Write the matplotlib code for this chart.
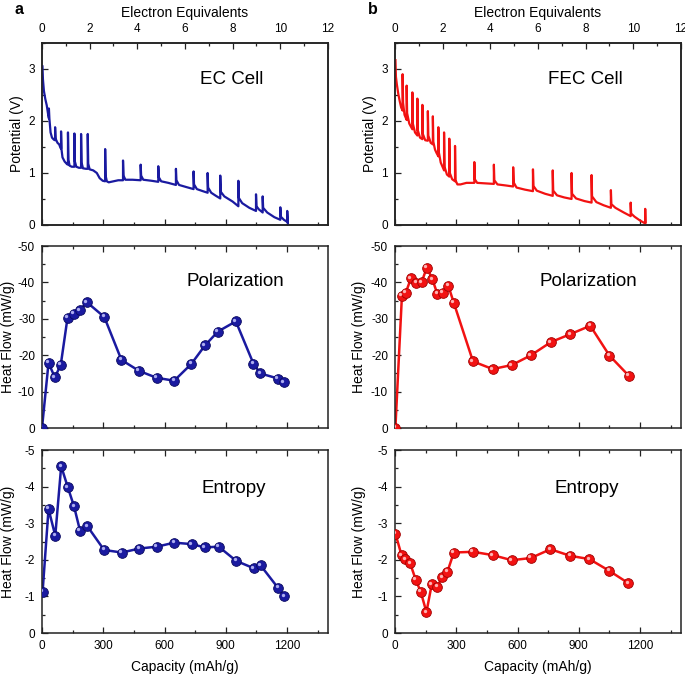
import matplotlib
matplotlib.use('Agg')
import matplotlib.pyplot as plt
import matplotlib.transforms as mtransforms
from matplotlib.ticker import MultipleLocator

plt.rcParams['font.family'] = ['Liberation Sans', 'DejaVu Sans']
plt.rcParams['axes.unicode_minus'] = False

# ---------------- data ----------------
# Potential vs electron equivalents (EC cell)
ec_e = [0.02, 0.04, 0.08, 0.14, 0.20, 0.26, 0.29, 0.29, 0.31, 0.36, 0.42, 0.50, 0.55, 0.55, 0.57,
        0.65, 0.72, 0.78, 0.80, 0.80, 0.82, 0.86, 0.95, 1.05, 1.09, 1.09, 1.11, 1.16, 1.25, 1.36,
        1.36, 1.38, 1.44, 1.55, 1.64, 1.64, 1.66, 1.72, 1.85, 1.92, 1.92, 1.94, 2.00, 2.15, 2.30,
        2.42, 2.55, 2.65, 2.65, 2.67, 2.72, 2.80, 3.00, 3.20, 3.40, 3.40, 3.42, 3.50, 3.80, 4.14,
        4.14, 4.16, 4.25, 4.60, 4.88, 4.88, 4.90, 5.00, 5.30, 5.62, 5.62, 5.64, 5.75, 6.05, 6.36,
        6.36, 6.38, 6.50, 6.75, 6.95, 6.95, 6.97, 7.10, 7.30, 7.48, 7.48, 7.50, 7.65, 8.00, 8.24,
        8.24, 8.26, 8.40, 8.70, 8.98, 8.98, 9.00, 9.10, 9.26, 9.26, 9.28, 9.45, 9.75, 10.00, 10.00,
        10.02, 10.15, 10.29, 10.29, 10.31, 10.32]
ec_v = [3.05, 2.80, 2.58, 2.42, 2.30, 2.12, 2.05, 2.24, 2.05, 1.78, 1.68, 1.64, 1.63, 1.88, 1.66,
        1.58, 1.55, 1.48, 1.47, 1.80, 1.45, 1.30, 1.22, 1.17, 1.16, 1.78, 1.25, 1.14, 1.12, 1.12,
        1.76, 1.22, 1.12, 1.10, 1.10, 1.75, 1.20, 1.09, 1.08, 1.08, 1.75, 1.18, 1.07, 1.05, 1.00,
        0.90, 0.85, 0.84, 1.46, 0.95, 0.84, 0.82, 0.84, 0.86, 0.86, 1.24, 0.95, 0.87, 0.87, 0.86,
        1.16, 0.95, 0.87, 0.85, 0.83, 1.13, 0.92, 0.84, 0.81, 0.77, 1.08, 0.86, 0.77, 0.73, 0.69,
        1.03, 0.78, 0.69, 0.65, 0.62, 1.00, 0.72, 0.62, 0.56, 0.51, 0.95, 0.64, 0.55, 0.45, 0.36,
        0.85, 0.52, 0.42, 0.33, 0.27, 0.59, 0.36, 0.30, 0.24, 0.55, 0.33, 0.24, 0.15, 0.10, 0.34,
        0.16, 0.10, 0.06, 0.27, 0.10, 0.02]

# Potential vs electron equivalents (FEC cell)
fec_e = [0.02, 0.04, 0.08, 0.14, 0.20, 0.26, 0.32, 0.32, 0.34, 0.40, 0.49, 0.49, 0.51, 0.60, 0.73,
         0.73, 0.75, 0.84, 0.94, 0.94, 0.96, 1.05, 1.15, 1.15, 1.17, 1.27, 1.38, 1.38, 1.40, 1.50,
         1.59, 1.59, 1.61, 1.68, 1.75, 1.82, 1.82, 1.84, 1.92, 2.06, 2.06, 2.08, 2.18, 2.28, 2.28,
         2.30, 2.40, 2.52, 2.52, 2.54, 2.62, 2.75, 3.00, 3.33, 3.33, 3.35, 3.45, 3.80, 4.15, 4.15,
         4.17, 4.30, 4.65, 4.96, 4.96, 4.98, 5.10, 5.45, 5.79, 5.79, 5.81, 5.95, 6.30, 6.62, 6.62,
         6.64, 6.80, 7.10, 7.41, 7.41, 7.43, 7.60, 7.95, 8.25, 8.25, 8.27, 8.45, 8.75, 9.06, 9.06,
         9.08, 9.25, 9.60, 9.89, 9.89, 9.91, 10.05, 10.30, 10.50, 10.50, 10.51]
fec_v = [3.17, 2.85, 2.70, 2.52, 2.38, 2.26, 2.20, 2.90, 2.35, 2.12, 2.02, 2.68, 2.15, 1.95, 1.84,
         2.55, 1.95, 1.78, 1.72, 2.43, 1.82, 1.68, 1.65, 2.31, 1.75, 1.63, 1.62, 2.19, 1.72, 1.58,
         1.55, 2.09, 1.60, 1.45, 1.38, 1.32, 1.88, 1.40, 1.20, 1.05, 1.78, 1.12, 0.97, 0.93, 1.66,
         1.00, 0.88, 0.84, 1.52, 0.86, 0.78, 0.78, 0.81, 0.81, 1.21, 0.88, 0.81, 0.80, 0.79, 1.16,
         0.86, 0.78, 0.76, 0.74, 1.11, 0.82, 0.72, 0.68, 0.65, 1.07, 0.75, 0.66, 0.60, 0.56, 1.05,
         0.66, 0.57, 0.53, 0.50, 1.00, 0.60, 0.51, 0.46, 0.43, 0.96, 0.55, 0.44, 0.38, 0.33, 0.67,
         0.40, 0.33, 0.24, 0.17, 0.43, 0.22, 0.16, 0.08, 0.03, 0.31, 0.05]

# Polarization heat flow (mW/g) vs capacity (mAh/g)
ec_pol_cap = [0, 32, 63, 92, 125, 156, 186, 219, 305, 389, 475, 561, 647, 731, 798, 861, 949,
              1035, 1069, 1155, 1184]
ec_pol = [0, -17.9, -13.9, -17.4, -30.3, -31.4, -32.4, -34.6, -30.5, -18.7, -15.7, -13.8, -13.0,
          -17.6, -22.7, -26.5, -29.3, -17.7, -15.0, -13.6, -12.6]

fec_pol_cap = [2, 34, 53, 78, 105, 130, 156, 183, 207, 235, 261, 288, 382, 478, 572, 666, 763,
               859, 956, 1050, 1144]
fec_pol = [0, -36.3, -37.2, -41.1, -39.9, -40.0, -44.1, -40.9, -36.9, -37.2, -39.1, -34.4, -18.3,
           -16.2, -17.3, -20.0, -23.6, -25.8, -28.1, -19.9, -14.4]

# Entropy heat flow (mW/g) vs capacity (mAh/g)
ec_ent_cap = [3, 32, 65, 94, 126, 157, 186, 222, 304, 391, 477, 563, 647, 733, 797, 865, 951,
              1037, 1070, 1156, 1185]
ec_ent = [-1.13, -3.39, -2.66, -4.56, -3.99, -3.46, -2.80, -2.92, -2.27, -2.20, -2.31, -2.36,
          -2.47, -2.43, -2.34, -2.36, -1.97, -1.77, -1.85, -1.23, -1.01]

fec_ent_cap = [2, 32, 50, 74, 102, 126, 154, 180, 207, 232, 257, 288, 382, 478, 572, 665, 761,
               858, 952, 1049, 1143]
fec_ent = [-2.72, -2.13, -2.02, -1.91, -1.45, -1.13, -0.57, -1.33, -1.27, -1.53, -1.68, -2.20,
           -2.22, -2.13, -1.99, -2.05, -2.29, -2.11, -2.02, -1.70, -1.36]

cap_ticks = [0, 300, 600, 900, 1200]
e_ticks = [0, 2, 4, 6, 8, 10, 12]

BLUE = '#1a1aa0'
BLUE_DARK = '#0a0a60'
RED = '#f21212'
RED_DARK = '#a00000'

# ---------------- figure ----------------
fig = plt.figure(figsize=(6.85, 6.75), dpi=100)
cols = [0.0613, 0.5766]
W = 0.4175
rows = [(0.6667, 0.2696), (0.3659, 0.2696), (0.0622, 0.271)]

TICK_FS = 8.5
LABEL_FS = 10


def base_style(ax, top_ticks=True):
    for s in ax.spines.values():
        s.set_linewidth(1.1)
        s.set_color('#222222')
    ax.set_xlim(0, 1400)
    ax.xaxis.set_major_locator(MultipleLocator(300))
    ax.xaxis.set_minor_locator(MultipleLocator(150))
    ax.tick_params(which='both', direction='in', top=top_ticks, right=False,
                   labelsize=TICK_FS, width=0.9, colors='#222222', labelcolor='black')
    ax.tick_params(axis='y', which='both', pad=5)
    ax.tick_params(axis='x', which='both', pad=5)
    ax.tick_params(which='major', length=4)
    ax.tick_params(which='minor', length=2.5)


def balls(ax, x, y, color, dark, hl):
    ax.plot(x, y, '-', color=color, lw=1.8, zorder=2)
    ax.plot(x, y, 'o', ms=7, mfc=color, mec=dark, mew=0.6, zorder=3)
    tr = mtransforms.offset_copy(ax.transData, fig=fig, x=-1.1, y=1.1, units='points')
    ax.plot(x, y, 'o', ms=2.4, mfc=hl, mec='none', alpha=0.85, transform=tr, zorder=4)


panels = [
    dict(col=0, e=ec_e, v=ec_v, pc=ec_pol_cap, p=ec_pol, ec=ec_ent_cap, en=ec_ent,
         color=BLUE, dark=BLUE_DARK, hl='#c8c8ff', title='EC Cell', tag='a',
         vlab=-0.063, hlab=-0.094),
    dict(col=1, e=fec_e, v=fec_v, pc=fec_pol_cap, p=fec_pol, ec=fec_ent_cap, en=fec_ent,
         color=RED, dark=RED_DARK, hl='#ffd0d0', title='FEC Cell', tag='b',
         vlab=-0.063, hlab=-0.101),
]

for P in panels:
    x0 = cols[P['col']]
    # --- top: potential ---
    b, h = rows[0]
    ax = fig.add_axes([x0, b, W, h])
    base_style(ax, top_ticks=False)
    ax.set_ylim(0, 3.5)
    ax.yaxis.set_major_locator(MultipleLocator(1))
    ax.yaxis.set_minor_locator(MultipleLocator(0.5))
    ax.set_xticklabels([])
    ax.set_ylabel('Potential (V)', fontsize=LABEL_FS)
    ax.yaxis.set_label_coords(P['vlab'], 0.5)
    ax2 = ax.twiny()
    ax2.set_xlim(0, 12)
    ax2.set_xticks(e_ticks)
    ax2.xaxis.set_minor_locator(MultipleLocator(1))
    ax2.tick_params(which='both', direction='in', labelsize=TICK_FS, width=0.9,
                    colors='#222222', labelcolor='black', pad=6)
    ax2.tick_params(which='major', length=4)
    ax2.tick_params(which='minor', length=2.5)
    for s in ax2.spines.values():
        s.set_linewidth(1.1)
        s.set_color('#222222')
    ax2.set_xlabel('Electron Equivalents', fontsize=LABEL_FS, labelpad=4)
    ax2.plot(P['e'], P['v'], '-', color=P['color'], lw=1.6, solid_joinstyle='round')
    ax.text(0.665, 0.8, P['title'], transform=ax.transAxes, fontsize=13.5,
            ha='center', va='center')
    fig.text(x0 - 0.033, 0.997, P['tag'], fontsize=11.5, fontweight='bold',
             ha='center', va='top')

    # --- middle: polarization ---
    b, h = rows[1]
    ax = fig.add_axes([x0, b, W, h])
    base_style(ax)
    ax.set_ylim(0, -50)
    ax.yaxis.set_major_locator(MultipleLocator(10))
    ax.yaxis.set_minor_locator(MultipleLocator(5))
    ax.set_xticklabels([])
    ax.set_ylabel('Heat Flow (mW/g)', fontsize=LABEL_FS)
    ax.yaxis.set_label_coords(P['hlab'], 0.5)
    balls(ax, P['pc'], P['p'], P['color'], P['dark'], P['hl'])
    ax.text(0.675, 0.805, 'Polarization', transform=ax.transAxes, fontsize=13.5,
            ha='center', va='center')

    # --- bottom: entropy ---
    b, h = rows[2]
    ax = fig.add_axes([x0, b, W, h])
    base_style(ax)
    ax.set_ylim(0, -5)
    ax.yaxis.set_major_locator(MultipleLocator(1))
    ax.yaxis.set_minor_locator(MultipleLocator(0.5))
    ax.set_xticks(cap_ticks)
    ax.xaxis.set_minor_locator(MultipleLocator(150))
    ax.set_xlabel('Capacity (mAh/g)', fontsize=LABEL_FS, labelpad=6)
    ax.set_ylabel('Heat Flow (mW/g)', fontsize=LABEL_FS)
    ax.yaxis.set_label_coords(P['hlab'], 0.5)
    balls(ax, P['ec'], P['en'], P['color'], P['dark'], P['hl'])
    ax.text(0.67, 0.79, 'Entropy', transform=ax.transAxes, fontsize=13.5,
            ha='center', va='center')

fig.savefig('out.png', dpi=100)
